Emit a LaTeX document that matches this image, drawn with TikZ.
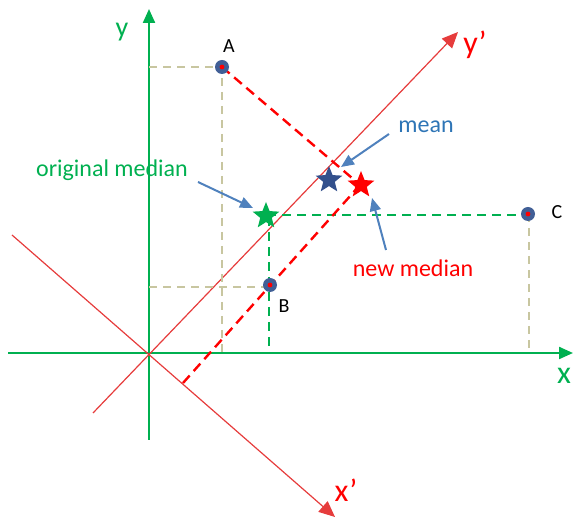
\documentclass[tikz,border=0pt]{standalone}
\usepackage{fontspec}
\setmainfont{Carlito}
\usetikzlibrary{arrows.meta,shapes.geometric}
\definecolor{axgreen}{RGB}{0,176,80}
\definecolor{rotred}{RGB}{230,60,60}
\definecolor{tan}{RGB}{200,198,160}
\definecolor{ptblue}{RGB}{65,95,150}
\definecolor{meanblue}{RGB}{50,80,140}
\definecolor{arrblue}{RGB}{79,129,189}
\definecolor{txtblue}{RGB}{46,117,182}

\begin{document}
\begin{tikzpicture}[x=1pt,y=-1pt,
    lbl/.style={font=\fontsize{24}{28}\selectfont, inner sep=0pt},
    axlbl/.style={font=\fontsize{32}{36}\selectfont, inner sep=0pt},
    ptlbl/.style={font=\fontsize{20}{24}\selectfont, inner sep=0pt},
    datapt/.style={circle, fill=ptblue, minimum size=14pt, inner sep=0pt},
    starmark/.style={star, star points=5, star point ratio=2.3, minimum size=28pt, inner sep=0pt},
    pointer/.style={arrblue, line width=2pt, -{Triangle[length=13pt,width=11pt]}}]
  \useasboundingbox (0,0) rectangle (574,518);
  % original axes
  \coordinate (O) at (149,353);
  \draw[axgreen, line width=2.2pt, -{Triangle[length=14pt,width=12pt]}] (8,353) -- (573,353);
  \draw[axgreen, line width=2.2pt, -{Triangle[length=14pt,width=12pt]}] (149,440) -- (149,9);
  \node[axlbl, axgreen] (xlbl) at (564,376) {x};
  \node[lbl, axgreen, font=\fontsize{28}{32}\selectfont] (ylbl) at (122,32) {y};
  % rotated axes
  \draw[rotred, line width=1.2pt, -{Triangle[length=16pt,width=14pt]}] (93,413) -- (458,32);
  \draw[rotred, line width=1.2pt, -{Triangle[length=16pt,width=14pt]}] (12,235) -- (335,517);
  \node[axlbl, red] (yplbl) at (475,45) {y’};
  \node[axlbl, red] (xplbl) at (346,490) {x’};
  % projections onto x and y
  \draw[tan, line width=1.8pt, dash pattern=on 8pt off 6pt] (149,67) -- (222,67) -- (222,353);
  \draw[tan, line width=1.8pt, dash pattern=on 8pt off 6pt] (149,287) -- (270,287);
  \draw[tan, line width=1.8pt, dash pattern=on 8pt off 6pt] (529,214) -- (529,353);
  \draw[axgreen, line width=2pt, dash pattern=on 9pt off 6pt] (267,215) -- (527,215);
  \draw[axgreen, line width=2pt, dash pattern=on 9pt off 6pt] (269,217) -- (269,353);
  % projections onto y'
  \draw[red, line width=2.4pt, dash pattern=on 10pt off 6pt] (222,67) -- (352,178);
  \draw[red, line width=2.4pt, dash pattern=on 10pt off 6pt] (183,383) -- (360,185);
  % data points
  \node[datapt] (A) at (222,67) {};
  \node[datapt] (B) at (270,285) {};
  \node[datapt] (C) at (528,214) {};
  \foreach \p in {A,B,C} \fill[red] (\p) circle (2.4pt);
  \node[ptlbl] at (229,46) {A};
  \node[ptlbl] at (284,306) {B};
  \node[ptlbl] at (557,212) {C};
  % medians and mean
  \node[starmark, fill=axgreen] (origmed) at (266,216) {};
  \node[starmark, fill=meanblue] (meanstar) at (329,180) {};
  \node[starmark, fill=red] (newmed) at (361,185) {};
  \node[lbl, txtblue] (meanlbl) at (426,127) {mean};
  \node[lbl, axgreen] (origlbl) at (112,170) {original median};
  \node[lbl, red] (newlbl) at (413,268) {new median};
  % pointers
  \coordinate (meantail) at (389,134);
  \coordinate (meantip) at (341,167);
  \coordinate (origtail) at (198,182);
  \coordinate (origtip) at (253,208);
  \coordinate (newtail) at (386,250);
  \coordinate (newtip) at (372,198);
  \draw[pointer] (meantail) -- (meantip);
  \draw[pointer] (origtail) -- (origtip);
  \draw[pointer] (newtail) -- (newtip);
\end{tikzpicture}
\end{document}
